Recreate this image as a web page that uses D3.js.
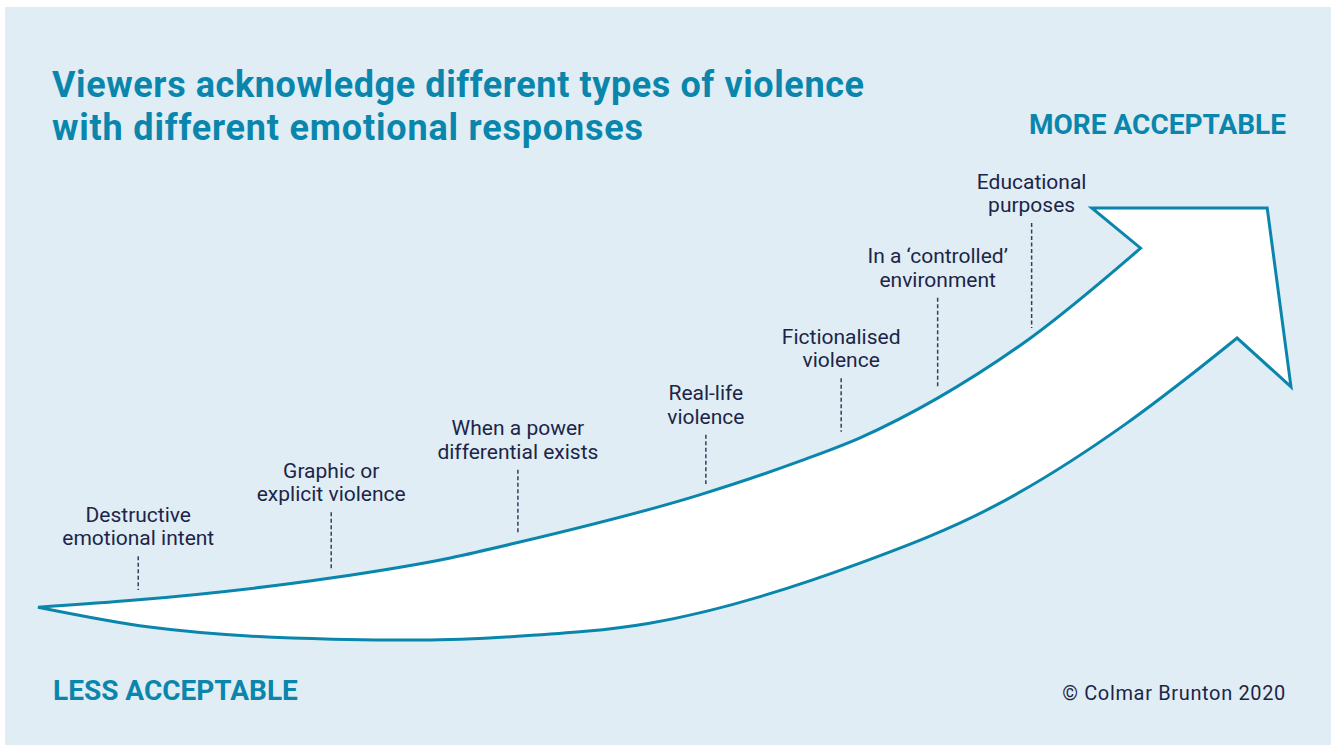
<!DOCTYPE html>
<html>
<head>
<meta charset="utf-8">
<script src="https://cdn.jsdelivr.net/npm/d3@7"></script>
<style>
  body { margin: 0; background: #fff; }
  svg { display: block; }
</style>
</head>
<body>
<div id="vis"></div>
<script>
// stages along the arrow, least to most acceptable
var stageLabels = [
    ["Destructive", "emotional intent"],
    ["Graphic or", "explicit violence"],
    ["When a power", "differential exists"],
    ["Real-life", "violence"],
    ["Fictionalised", "violence"],
    ["In a \u2018controlled\u2019", "environment"],
    ["Educational", "purposes"]
];
var stagePos  = [8.0, 23.4, 38.3, 53.3, 64.1, 71.8, 79.3];   // along the arrow (0-100)
var stageTop  = [19.4, 29.6, 39.4, 47.5, 60.6, 79.2, 96.5];  // acceptability where the pointer starts
var stageBase = [11.6, 16.2, 24.8, 36.1, 48.2, 58.6, 72.2];  // ... and where it meets the arrow

// arrow outline in the same units
var upperEdge = [[0, 7.6], [8.0, 9.3], [23.5, 14.4], [32.9, 19.0], [38.2, 22.5], [52.8, 33.6],
                 [60.8, 41.4], [65.6, 46.8], [71.8, 56.0], [79.3, 70.1], [88.0, 90.7]];
var lowerEdge = [[0, 7.6], [8.9, 3.0], [23.5, 0.2], [30.5, 0], [38.5, 0.9], [48.8, 3.9],
                 [65.6, 17.8], [76.2, 30.8], [86.9, 50.2], [92.2, 61.8], [95.7, 69.9]];
var arrowHead = [[84.1, 100], [98.1, 100], [100, 58.6]];

var title = ["Viewers acknowledge different types of violence",
             "with different emotional responses"];
var titleWidth = [812, 591];

var W = 1338, H = 745;
var teal = "#0a86ad", navy = "#1c2548";

var svg = d3.select("#vis").append("svg")
    .attr("width", W)
    .attr("height", H);

svg.append("rect")
    .attr("x", 5).attr("y", 7)
    .attr("width", 1326).attr("height", H - 7)
    .style("fill", "#e0edf5");

var x = d3.scaleLinear().domain([0, 100]).range([38, 1291]);
var y = d3.scaleLinear().domain([0, 100]).range([640, 208]);

var edge = d3.line()
    .x(function(d) { return x(d[0]); })
    .y(function(d) { return y(d[1]); })
    .curve(d3.curveMonotoneX);

var pathD = edge(upperEdge)
    + arrowHead.map(function(d) { return "L" + x(d[0]) + "," + y(d[1]); }).join("")
    + edge(lowerEdge.slice().reverse()).replace(/^M/, "L")
    + "Z";

svg.append("path")
    .attr("d", pathD)
    .style("fill", "#fff")
    .style("stroke", teal)
    .style("stroke-width", 3)
    .style("stroke-linejoin", "miter");

// dashed pointers
svg.selectAll(".pointer")
    .data(stagePos)
    .enter().append("line")
    .attr("class", "pointer")
    .attr("x1", function(d) { return x(d); })
    .attr("x2", function(d) { return x(d); })
    .attr("y1", function(d, i) { return y(stageTop[i]); })
    .attr("y2", function(d, i) { return y(stageBase[i]); })
    .style("stroke", "#353e5c")
    .style("stroke-width", 1.5)
    .style("stroke-dasharray", "4,2.5");

// stage labels
var labels = svg.selectAll(".stage")
    .data(stageLabels)
    .enter().append("text")
    .attr("class", "stage")
    .attr("transform", function(d, i) {
        return "translate(" + x(stagePos[i]) + "," + (y(stageTop[i]) - 11) + ")";
    })
    .style("text-anchor", "middle")
    .style("font-family", "Roboto, sans-serif")
    .style("font-size", "21px")
    .style("fill", navy);

labels.selectAll("tspan")
    .data(function(d) { return d; })
    .enter().append("tspan")
    .attr("x", 0)
    .attr("y", function(d, i, nodes) { return (i - nodes.length + 1) * 23.5; })
    .text(function(d) { return d; });

svg.selectAll(".title")
    .data(title)
    .enter().append("text")
    .attr("class", "title")
    .attr("x", 52)
    .attr("y", function(d, i) { return 97 + i * 43; })
    .attr("textLength", function(d, i) { return titleWidth[i]; })
    .attr("lengthAdjust", "spacing")
    .style("font-family", "Roboto, sans-serif")
    .style("font-weight", 700)
    .style("font-size", "36px")
    .style("fill", teal)
    .text(function(d) { return d; });

svg.append("text")
    .attr("x", 1286).attr("y", 134)
    .style("text-anchor", "end")
    .style("font-family", "Roboto, sans-serif")
    .style("font-weight", 700)
    .style("font-size", "28px")
    .style("fill", teal)
    .text("MORE ACCEPTABLE");

svg.append("text")
    .attr("x", 53).attr("y", 700)
    .style("font-family", "Roboto, sans-serif")
    .style("font-weight", 700)
    .style("font-size", "28px")
    .style("fill", teal)
    .text("LESS ACCEPTABLE");

svg.append("text")
    .attr("x", 1286).attr("y", 700)
    .style("text-anchor", "end")
    .style("font-family", "Roboto, sans-serif")
    .style("font-size", "20px")
    .style("letter-spacing", "0.65px")
    .style("fill", navy)
    .text("\u00a9 Colmar Brunton 2020");
</script>
</body>
</html>
